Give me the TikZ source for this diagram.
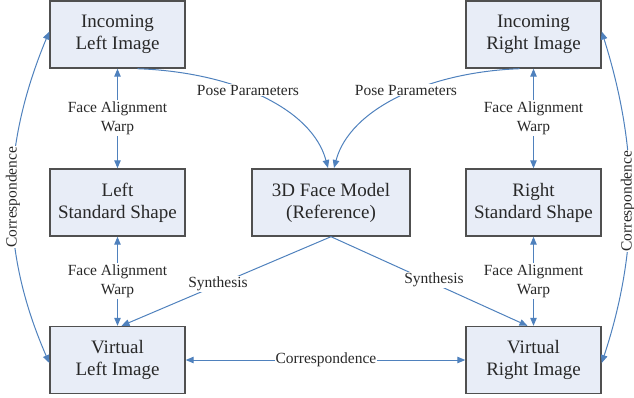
\documentclass[tikz,border=0pt]{standalone}
\usepackage{fontspec}
\setmainfont{Liberation Serif}
\usetikzlibrary{arrows.meta}
\definecolor{boxfill}{RGB}{232,237,247}
\definecolor{boxline}{RGB}{80,80,80}
\definecolor{flow}{RGB}{79,129,189}
\definecolor{ink}{RGB}{40,40,40}
\tikzset{
  stage/.style={draw=boxline, line width=1.4pt, fill=boxfill, text=ink,
    minimum width=135pt, minimum height=67pt, align=center, inner sep=2pt,
    font=\fontsize{19}{22}\selectfont},
  link/.style={draw=flow, line width=1pt},
  tip/.style={-{Triangle[length=8pt,width=6.5pt]}},
  twotip/.style={{Triangle[length=8pt,width=6.5pt]}-{Triangle[length=8pt,width=6.5pt]}},
  lbl/.style={fill=white, text=ink, inner sep=1pt, align=center,
    font=\fontsize{15.5}{19}\selectfont}
}
\begin{document}
\begin{tikzpicture}[x=1pt,y=-1pt]
\useasboundingbox (0,0) rectangle (634,397);

% processing stages
\node[stage] (inL) at (117.5,34.5) {Incoming\\Left Image};
\node[stage] (inR) at (533.5,34.5) {Incoming\\Right Image};
\node[stage] (stdL) at (117.5,202.5) {Left\\Standard Shape};
\node[stage, minimum width=158pt] (model) at (331,202.5) {3D Face Model\\(Reference)};
\node[stage] (stdR) at (533.5,202.5) {Right\\Standard Shape};
\node[stage] (virL) at (117.5,360) {Virtual\\Left Image};
\node[stage] (virR) at (533.5,360) {Virtual\\Right Image};

% face alignment warps
\draw[link,twotip] (inL.south) -- (stdL.north);
\draw[link,twotip] (stdL.south) -- (virL.north);
\draw[link,twotip] (inR.south) -- (stdR.north);
\draw[link,twotip] (stdR.south) -- (virR.north);

% pose parameters into the model
\coordinate (poseL) at (328,168);
\coordinate (poseR) at (334,168);
\draw[link,tip] ([xshift=20pt]inL.south) .. controls (232,72) and (312,108) .. (poseL);
\draw[link,tip] ([xshift=-14pt]inR.south) .. controls (430,72) and (350,108) .. (poseR);

% synthesis from the model
\draw[link,tip] (model.south) -- ([xshift=4pt]virL.north);
\draw[link,tip] (model.south) -- ([xshift=-6pt]virR.north);

% correspondences
\draw[link,twotip] (virL.east) -- (virR.west);
\draw[link,twotip] ([yshift=3pt]inL.west) .. controls (0,150) and (0,250) .. ([yshift=-3pt]virL.west);
\draw[link,twotip] ([yshift=3pt]inR.east) .. controls (639,150) and (639,250) .. ([yshift=-3pt]virR.east);

% labels
\node[lbl] (warpA) at (117.5,118) {Face Alignment\\Warp};
\node[lbl] (warpB) at (117.5,281) {Face Alignment\\Warp};
\node[lbl] (warpC) at (533.5,118) {Face Alignment\\Warp};
\node[lbl] (warpD) at (533.5,281) {Face Alignment\\Warp};
\node[lbl] (poseLl) at (248,90) {Pose Parameters};
\node[lbl] (poseRl) at (406,90) {Pose Parameters};
\node[lbl] (synL) at (218,284) {Synthesis};
\node[lbl] (synR) at (434,280) {Synthesis};
\node[lbl] (corrM) at (326,360) {Correspondence};
\node[lbl, rotate=90] (corrL) at (13,197) {Correspondence};
\node[lbl, rotate=90] (corrR) at (628,201) {Correspondence};
\end{tikzpicture}
\end{document}
